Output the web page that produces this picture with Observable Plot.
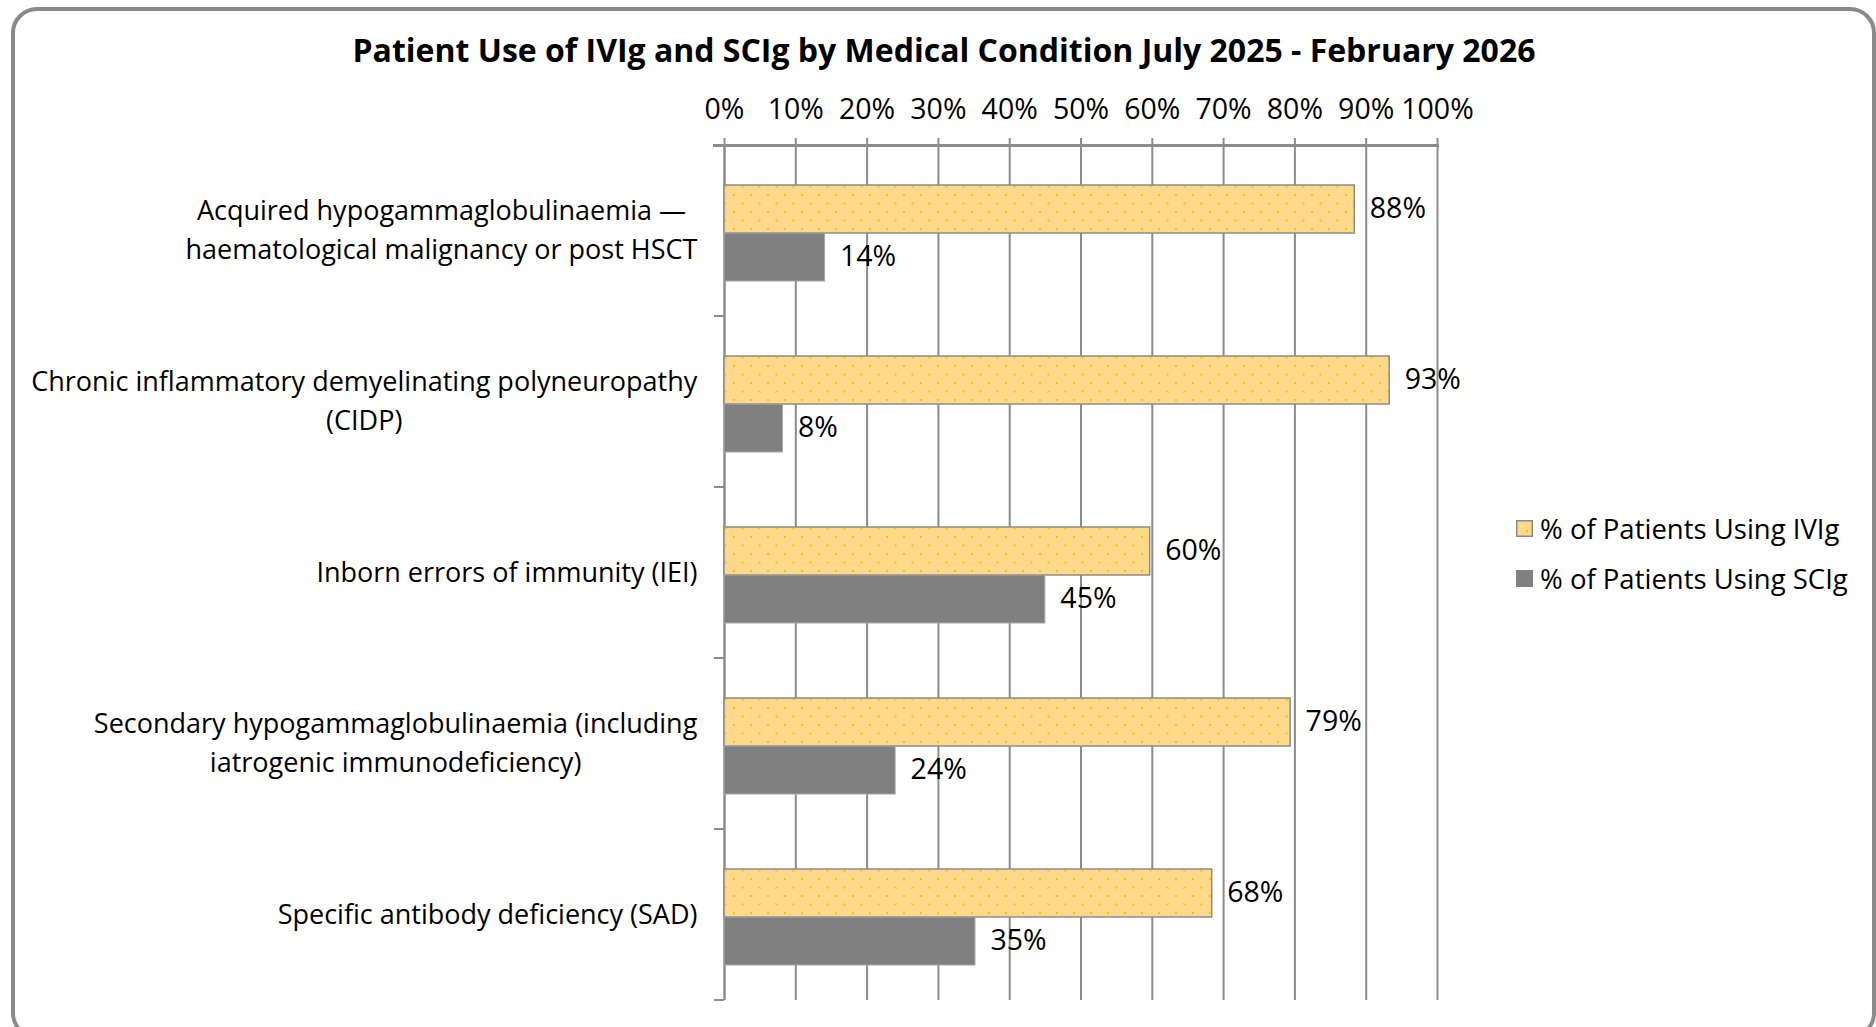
<!DOCTYPE html>
<html>
<head>
<meta charset="utf-8">
<script src="https://cdn.jsdelivr.net/npm/d3@7"></script>
<script src="https://cdn.jsdelivr.net/npm/@observablehq/plot@0.6"></script>
<style>
  html, body { margin: 0; padding: 0; background: #fff; overflow: hidden; }
  body { width: 1876px; height: 1027px; position: relative; font-family: "Open Sans", Roboto, sans-serif; }
  #frame { position: absolute; left: 11px; top: 7px; width: 1865px; height: 1032px; box-sizing: border-box;
           border: 4px solid #8a8a8a; border-radius: 26px; }
  #title { position: absolute; left: 12px; top: 30px; width: 1864px; text-align: center; line-height: 40px;
           font-size: 32px; font-weight: bold; color: #000; }
  #chart { position: absolute; left: 0; top: 70px; }
  #legend { position: absolute; left: 1516px; top: 503px; font-size: 27.5px; color: #000; }
  .item { display: flex; align-items: center; height: 50px; white-space: nowrap; }
  .item svg { margin-right: 7px; }
</style>
</head>
<body>
<div id="frame"></div>
<div id="title"></div>
<div id="chart"></div>
<div id="legend"></div>
<script>
const titleText = "Patient Use of IVIg and SCIg by Medical Condition July 2025 - February 2026";
const categories = [
  "Acquired hypogammaglobulinaemia —\nhaematological malignancy or post HSCT",
  "Chronic inflammatory demyelinating polyneuropathy\n(CIDP)",
  "Inborn errors of immunity (IEI)",
  "Secondary hypogammaglobulinaemia (including\niatrogenic immunodeficiency)",
  "Specific antibody deficiency (SAD)"
];
const seriesNames = ["% of Patients Using IVIg", "% of Patients Using SCIg"];
const ivigValues = [0.884, 0.933, 0.597, 0.794, 0.684];
const scigValues = [0.141, 0.082, 0.450, 0.240, 0.352];
const xTicks = [0, 0.1, 0.2, 0.3, 0.4, 0.5, 0.6, 0.7, 0.8, 0.9, 1.0];

const rows = categories.flatMap((c, i) => [
  {category: c, series: seriesNames[0], value: ivigValues[i]},
  {category: c, series: seriesNames[1], value: scigValues[i]}
]);

const pct = d3.format(".0%");
const gray = "#8c8c8c";
const labelSize = 27;
const numberSize = 28.5;

document.getElementById("title").textContent = titleText;

const chart = Plot.plot({
  width: 1876,
  height: 950,
  marginLeft: 724,
  marginRight: 439,
  marginTop: 74,
  marginBottom: 20,
  style: {fontFamily: "'Open Sans', Roboto, sans-serif", fontSize: labelSize + "px", color: "#000", background: "transparent"},
  x: {domain: [0, 1]},
  fy: {domain: categories, padding: 0, axis: null},
  y: {domain: seriesNames, paddingInner: 0, paddingOuter: 0.747, align: 0.53, axis: null},
  marks: [
    Plot.gridX(xTicks, {stroke: gray, strokeOpacity: 1, strokeWidth: 2}),
    Plot.ruleX([0], {stroke: gray, strokeWidth: 2}),
    Plot.frame({anchor: "top", facetAnchor: "top", stroke: gray, strokeWidth: 3, insetLeft: -10}),
    Plot.axisX(xTicks, {anchor: "top", tickFormat: pct, tickSize: 8, tickPadding: 19, stroke: gray, strokeWidth: 2, fontSize: numberSize, fill: "#000", label: null}),
    Plot.barX(rows.filter(d => d.series === seriesNames[0]), {x: "value", y: "series", fy: "category", fill: "url(#dots)", stroke: gray, strokeWidth: 1.5}),
    Plot.barX(rows.filter(d => d.series === seriesNames[1]), {x: "value", y: "series", fy: "category", fill: "#808080", stroke: "#a6a6a6", strokeWidth: 1}),
    Plot.text(rows, {x: "value", y: "series", fy: "category", text: d => pct(d.value), dx: 15, dy: -1, textAnchor: "start", fill: "#000", fontSize: numberSize}),
    Plot.text(categories, {fy: d => d, text: d => d, frameAnchor: "left", textAnchor: "end", dx: -27, dy: -4, lineHeight: 1.46, fill: "#000", fontSize: labelSize, className: "catlabel"})
  ]
});

document.getElementById("chart").appendChild(chart);

// pattern fill for IVIg bars
const svg = d3.select(chart);
const defs = svg.insert("defs", ":first-child");
const pat = defs.append("pattern").attr("id", "dots").attr("patternUnits", "userSpaceOnUse")
  .attr("width", 17).attr("height", 17);
pat.append("rect").attr("width", 17).attr("height", 17).attr("fill", "#ffd98a");
pat.append("rect").attr("x", 2).attr("y", 4).attr("width", 2).attr("height", 2).attr("fill", "#ffc000");
pat.append("rect").attr("x", 10.5).attr("y", 12.5).attr("width", 2).attr("height", 2).attr("fill", "#ffc000");

// left boundary ticks between categories, from the fy scale
const fy = chart.scale("fy");
svg.append("g").selectAll("line").data(categories).join("line")
  .attr("x1", 724 - 10).attr("x2", 724)
  .attr("y1", d => fy.apply(d) + fy.step)
  .attr("y2", d => fy.apply(d) + fy.step)
  .attr("stroke", gray).attr("stroke-width", 2);

// center multi-line category labels on each other (right-aligned block)
svg.selectAll(".catlabel text").each(function() {
  const w = this.getBBox().width;
  this.setAttribute("text-anchor", "middle");
  const tspans = d3.select(this).selectAll("tspan");
  if (tspans.size() > 0) tspans.attr("x", -w / 2);
  else this.setAttribute("dx", -w / 2 + (+this.getAttribute("dx") || 0));
});

// legend
const legend = d3.select("#legend");
seriesNames.forEach((name, i) => {
  const item = legend.append("div").attr("class", "item");
  const s = item.append("svg").attr("width", 17).attr("height", 17);
  if (i === 0) {
    s.append("rect").attr("x", 0.75).attr("y", 0.75).attr("width", 15.5).attr("height", 15.5)
      .attr("fill", "#ffd98a").attr("stroke", gray).attr("stroke-width", 1.5);
    s.append("rect").attr("x", 10).attr("y", 10).attr("width", 2).attr("height", 2).attr("fill", "#ffc000");
  } else {
    s.append("rect").attr("width", 17).attr("height", 17).attr("fill", "#808080");
  }
  item.append("span").text(name);
});
</script>
</body>
</html>
